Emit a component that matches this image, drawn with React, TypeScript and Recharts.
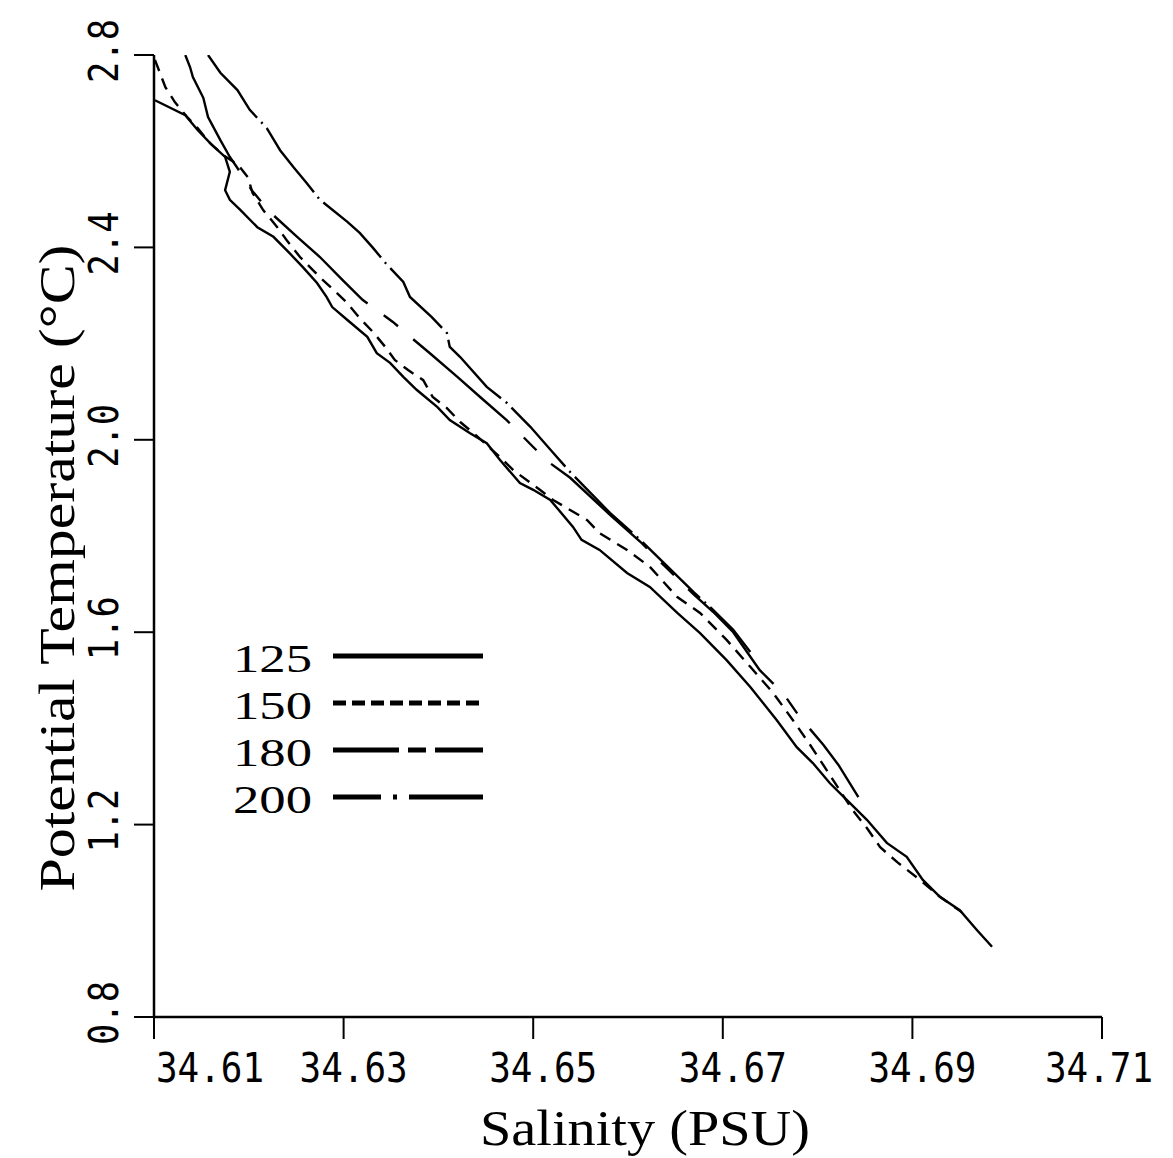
import { LineChart, Line, XAxis, YAxis, Legend } from 'recharts';

// salinity (PSU) and potential temperature (°C)
const s125 = [34.6101, 34.6133, 34.6146, 34.6161, 34.6175, 34.618, 34.6175, 34.618, 34.6191, 34.6209, 34.6226, 34.6243, 34.6257, 34.6272, 34.6282, 34.6288, 34.6304, 34.6325, 34.6335, 34.6349, 34.6363, 34.6377, 34.6399, 34.6412, 34.6433, 34.6451, 34.6465, 34.6486, 34.65, 34.6518, 34.6542, 34.6551, 34.657, 34.6599, 34.6623, 34.6652, 34.6676, 34.6704, 34.6729, 34.6757, 34.6778, 34.6795, 34.6813, 34.6831, 34.6852, 34.6873, 34.6894, 34.6911, 34.6929, 34.695, 34.6968, 34.6984];
const t125 = [2.706, 2.675, 2.644, 2.613, 2.588, 2.557, 2.519, 2.499, 2.478, 2.442, 2.422, 2.388, 2.359, 2.326, 2.297, 2.276, 2.249, 2.214, 2.18, 2.16, 2.131, 2.104, 2.068, 2.041, 2.014, 1.993, 1.958, 1.91, 1.896, 1.875, 1.819, 1.792, 1.771, 1.723, 1.694, 1.64, 1.598, 1.542, 1.486, 1.417, 1.361, 1.328, 1.286, 1.251, 1.21, 1.162, 1.133, 1.085, 1.05, 1.022, 0.981, 0.946];

const s150 = [34.6101, 34.6112, 34.6122, 34.6135, 34.6146, 34.6159, 34.6173, 34.6189, 34.6199, 34.6204, 34.6215, 34.623, 34.624, 34.6254, 34.6275, 34.6293, 34.6304, 34.6317, 34.6331, 34.6344, 34.6354, 34.6368, 34.6384, 34.6394, 34.6409, 34.6423, 34.6437, 34.6451, 34.6465, 34.6479, 34.6507, 34.6521, 34.6557, 34.657, 34.6599, 34.6623, 34.6652, 34.6676, 34.6704, 34.6729, 34.6753, 34.6774, 34.6792, 34.6813, 34.6837, 34.6852, 34.6866, 34.6884, 34.6908, 34.6929, 34.6952];
const t150 = [2.79, 2.733, 2.702, 2.671, 2.648, 2.617, 2.592, 2.571, 2.546, 2.513, 2.478, 2.442, 2.415, 2.38, 2.338, 2.305, 2.284, 2.253, 2.224, 2.193, 2.166, 2.145, 2.124, 2.089, 2.066, 2.037, 2.014, 1.989, 1.964, 1.937, 1.896, 1.875, 1.833, 1.806, 1.771, 1.736, 1.673, 1.64, 1.584, 1.528, 1.474, 1.417, 1.366, 1.303, 1.23, 1.193, 1.153, 1.122, 1.085, 1.05, 1.018];

const s180 = [34.6133, 34.6138, 34.6141, 34.6152, 34.6157, 34.617, 34.618, 34.6188, 34.6203, 34.6222, 34.6251, 34.6275, 34.6299, 34.632, 34.6352, 34.6368, 34.6391, 34.642, 34.6444, 34.6472, 34.65, 34.6516, 34.6539, 34.6581, 34.6613, 34.6641, 34.6669, 34.669, 34.6711, 34.6739, 34.6764, 34.6781, 34.6806, 34.6822, 34.6843];
const t180 = [2.8, 2.775, 2.754, 2.711, 2.671, 2.623, 2.588, 2.565, 2.519, 2.474, 2.422, 2.38, 2.332, 2.291, 2.245, 2.218, 2.18, 2.131, 2.089, 2.041, 1.985, 1.954, 1.921, 1.844, 1.788, 1.733, 1.679, 1.642, 1.6, 1.521, 1.472, 1.424, 1.366, 1.324, 1.257];

const s200 = [34.6157, 34.617, 34.6188, 34.6201, 34.6219, 34.6233, 34.6247, 34.6261, 34.6275, 34.6304, 34.6317, 34.6331, 34.6344, 34.6363, 34.637, 34.6393, 34.6409, 34.6412, 34.6423, 34.6451, 34.6472, 34.6497, 34.6521, 34.6539, 34.6581, 34.6613, 34.6641, 34.6669, 34.669, 34.6711, 34.6729];
const t200 = [2.8, 2.763, 2.727, 2.686, 2.648, 2.602, 2.567, 2.534, 2.499, 2.453, 2.43, 2.399, 2.368, 2.328, 2.297, 2.255, 2.222, 2.193, 2.172, 2.11, 2.077, 2.027, 1.973, 1.933, 1.848, 1.792, 1.738, 1.684, 1.646, 1.605, 1.559];

const seriesNames = ['125', '150', '180', '200'];
const xTicks = [34.61, 34.63, 34.65, 34.67, 34.69, 34.71];
const yTicks = [0.8, 1.2, 1.6, 2.0, 2.4, 2.8];

const zip = (s: number[], t: number[]) => s.map((v, i) => ({ s: v, t: t[i] }));
const seriesData = [zip(s125, t125), zip(s150, t150), zip(s180, t180), zip(s200, t200)];

const lineDash = ['', '12 8', '128 20 18 20', '80 6 2 6'];
const legendDash = ['', '13 6', '66 9 18 9', '48 12 4 12 80'];

// labels in the original are not all centred on their ticks
const xLabelShift = [56, 10, 10, 10, 10, -3];

const tickFont = 'DejaVu Sans Mono';
const serif = '"Liberation Serif", "DejaVu Serif", serif';

const XTick = ({ x, payload, index }: any) => (
  <text
    x={x + (xLabelShift[index] ?? 0)}
    y={1082}
    textAnchor="middle"
    fontFamily={tickFont}
    fontSize={40}
    textLength={108}
    lengthAdjust="spacingAndGlyphs"
    fill="#000"
  >
    {Number(payload.value).toFixed(2)}
  </text>
);

const YTick = ({ y, payload }: any) => {
  const cy = y - 4;
  return (
    <text
      x={118}
      y={cy}
      transform={`rotate(-90, 118, ${cy})`}
      textAnchor="middle"
      fontFamily={tickFont}
      fontSize={40}
      textLength={64}
      lengthAdjust="spacingAndGlyphs"
      fill="#000"
    >
      {Number(payload.value).toFixed(1)}
    </text>
  );
};

const XTitle = () => (
  <text x={645} y={1145} textAnchor="middle" fontFamily={serif} fontSize={50} textLength={330} lengthAdjust="spacingAndGlyphs" fill="#000">
    Salinity (PSU)
  </text>
);

const YTitle = () => (
  <text
    x={74}
    y={568}
    transform="rotate(-90, 74, 568)"
    textAnchor="middle"
    fontFamily={serif}
    fontSize={50}
    textLength={647}
    lengthAdjust="spacingAndGlyphs"
    fill="#000"
  >
    Potential Temperature (°C)
  </text>
);

const legendBase = [52, 99, 146, 193];

const LegendBox = () => (
  <svg width={280} height={210}>
    {seriesNames.map((name, i) => (
      <g key={name}>
        <text x={8} y={legendBase[i]} fontFamily={serif} fontSize={40} textLength={79} lengthAdjust="spacingAndGlyphs" fill="#000">
          {name}
        </text>
        <line
          x1={108}
          x2={258}
          y1={legendBase[i] - 16}
          y2={legendBase[i] - 16}
          stroke="#000"
          strokeWidth={5}
          strokeDasharray={legendDash[i] || undefined}
        />
      </g>
    ))}
  </svg>
);

export default function App() {
  return (
    <div style={{ position: 'absolute', left: 0, top: 0, background: '#fff' }}>
      <LineChart width={1173} height={1158} margin={{ top: 55, right: 71, left: 0, bottom: 0 }}>
        <XAxis
          type="number"
          dataKey="s"
          domain={[34.61, 34.71]}
          ticks={xTicks}
          interval={0}
          height={141}
          tickSize={22}
          axisLine={{ stroke: '#000', strokeWidth: 2.5 }}
          tickLine={{ stroke: '#000', strokeWidth: 2 }}
          tick={<XTick />}
          label={<XTitle />}
          allowDataOverflow
        />
        <YAxis
          type="number"
          dataKey="t"
          domain={[0.8, 2.8]}
          ticks={yTicks}
          interval={0}
          width={154}
          tickSize={20}
          axisLine={{ stroke: '#000', strokeWidth: 2.5 }}
          tickLine={{ stroke: '#000', strokeWidth: 2 }}
          tick={<YTick />}
          label={<YTitle />}
          allowDataOverflow
        />
        <Legend
          layout="horizontal"
          verticalAlign="middle"
          align="center"
          content={<LegendBox />}
          wrapperStyle={{ left: 225, top: 620, width: 280, height: 210 }}
        />
        {seriesNames.map((name, i) => (
          <Line
            key={name}
            name={name}
            data={seriesData[i]}
            dataKey="t"
            type="linear"
            stroke="#000"
            strokeWidth={2.4}
            strokeDasharray={lineDash[i] || undefined}
            dot={false}
            activeDot={false}
            isAnimationActive={false}
          />
        ))}
      </LineChart>
    </div>
  );
}
